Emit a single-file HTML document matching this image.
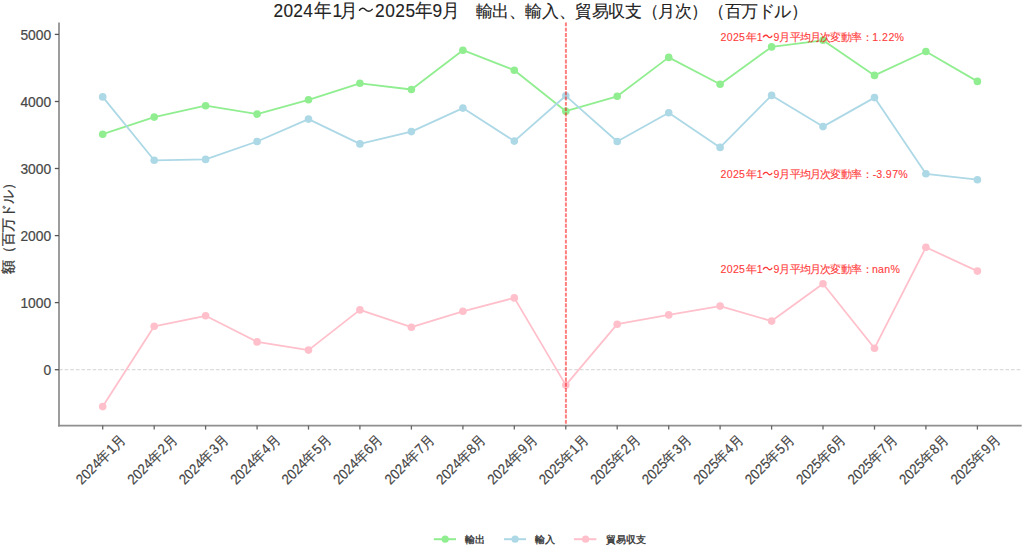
<!DOCTYPE html>
<html><head><meta charset="utf-8"><style>
html,body{margin:0;padding:0;background:#fff;width:1024px;height:547px;overflow:hidden}
svg{display:block;font-family:'Liberation Sans', sans-serif}
</style></head><body>
<svg width="1024" height="547" viewBox="0 0 1024 547">
<rect width="1024" height="547" fill="#fff"/>
<line x1="59.0" y1="369.7" x2="1021.7" y2="369.7" stroke="#dcdcdc" stroke-width="1.3" stroke-dasharray="3.7 1.9"/>
<polyline points="102.7,134.2 154.2,117.1 205.6,105.7 257.1,114.1 308.5,99.8 359.9,83.3 411.4,89.5 462.9,50.2 514.3,70.2 565.8,111.2 617.2,96.3 668.7,57.4 720.1,84.2 771.6,46.9 823.0,40.3 874.5,75.4 925.9,51.5 977.4,81.4" fill="none" stroke="#90ee90" stroke-width="1.8" stroke-linejoin="round"/><circle cx="102.7" cy="134.2" r="3.8" fill="#90ee90"/><circle cx="154.2" cy="117.1" r="3.8" fill="#90ee90"/><circle cx="205.6" cy="105.7" r="3.8" fill="#90ee90"/><circle cx="257.1" cy="114.1" r="3.8" fill="#90ee90"/><circle cx="308.5" cy="99.8" r="3.8" fill="#90ee90"/><circle cx="359.9" cy="83.3" r="3.8" fill="#90ee90"/><circle cx="411.4" cy="89.5" r="3.8" fill="#90ee90"/><circle cx="462.9" cy="50.2" r="3.8" fill="#90ee90"/><circle cx="514.3" cy="70.2" r="3.8" fill="#90ee90"/><circle cx="565.8" cy="111.2" r="3.8" fill="#90ee90"/><circle cx="617.2" cy="96.3" r="3.8" fill="#90ee90"/><circle cx="668.7" cy="57.4" r="3.8" fill="#90ee90"/><circle cx="720.1" cy="84.2" r="3.8" fill="#90ee90"/><circle cx="771.6" cy="46.9" r="3.8" fill="#90ee90"/><circle cx="823.0" cy="40.3" r="3.8" fill="#90ee90"/><circle cx="874.5" cy="75.4" r="3.8" fill="#90ee90"/><circle cx="925.9" cy="51.5" r="3.8" fill="#90ee90"/><circle cx="977.4" cy="81.4" r="3.8" fill="#90ee90"/>
<polyline points="102.7,96.9 154.2,160.3 205.6,159.4 257.1,141.5 308.5,119.1 359.9,143.9 411.4,131.6 462.9,108.1 514.3,141.1 565.8,95.8 617.2,141.5 668.7,112.7 720.1,147.4 771.6,95.4 823.0,126.6 874.5,97.6 925.9,173.8 977.4,179.7" fill="none" stroke="#add8e6" stroke-width="1.8" stroke-linejoin="round"/><circle cx="102.7" cy="96.9" r="3.8" fill="#add8e6"/><circle cx="154.2" cy="160.3" r="3.8" fill="#add8e6"/><circle cx="205.6" cy="159.4" r="3.8" fill="#add8e6"/><circle cx="257.1" cy="141.5" r="3.8" fill="#add8e6"/><circle cx="308.5" cy="119.1" r="3.8" fill="#add8e6"/><circle cx="359.9" cy="143.9" r="3.8" fill="#add8e6"/><circle cx="411.4" cy="131.6" r="3.8" fill="#add8e6"/><circle cx="462.9" cy="108.1" r="3.8" fill="#add8e6"/><circle cx="514.3" cy="141.1" r="3.8" fill="#add8e6"/><circle cx="565.8" cy="95.8" r="3.8" fill="#add8e6"/><circle cx="617.2" cy="141.5" r="3.8" fill="#add8e6"/><circle cx="668.7" cy="112.7" r="3.8" fill="#add8e6"/><circle cx="720.1" cy="147.4" r="3.8" fill="#add8e6"/><circle cx="771.6" cy="95.4" r="3.8" fill="#add8e6"/><circle cx="823.0" cy="126.6" r="3.8" fill="#add8e6"/><circle cx="874.5" cy="97.6" r="3.8" fill="#add8e6"/><circle cx="925.9" cy="173.8" r="3.8" fill="#add8e6"/><circle cx="977.4" cy="179.7" r="3.8" fill="#add8e6"/>
<polyline points="102.7,406.6 154.2,326.3 205.6,315.8 257.1,341.9 308.5,350.1 359.9,309.9 411.4,327.2 462.9,311.3 514.3,297.9 565.8,385.1 617.2,324.2 668.7,314.9 720.1,306.1 771.6,321.1 823.0,283.8 874.5,348.2 925.9,247.3 977.4,271.1" fill="none" stroke="#ffc0cb" stroke-width="1.8" stroke-linejoin="round"/><circle cx="102.7" cy="406.6" r="3.8" fill="#ffc0cb"/><circle cx="154.2" cy="326.3" r="3.8" fill="#ffc0cb"/><circle cx="205.6" cy="315.8" r="3.8" fill="#ffc0cb"/><circle cx="257.1" cy="341.9" r="3.8" fill="#ffc0cb"/><circle cx="308.5" cy="350.1" r="3.8" fill="#ffc0cb"/><circle cx="359.9" cy="309.9" r="3.8" fill="#ffc0cb"/><circle cx="411.4" cy="327.2" r="3.8" fill="#ffc0cb"/><circle cx="462.9" cy="311.3" r="3.8" fill="#ffc0cb"/><circle cx="514.3" cy="297.9" r="3.8" fill="#ffc0cb"/><circle cx="565.8" cy="385.1" r="3.8" fill="#ffc0cb"/><circle cx="617.2" cy="324.2" r="3.8" fill="#ffc0cb"/><circle cx="668.7" cy="314.9" r="3.8" fill="#ffc0cb"/><circle cx="720.1" cy="306.1" r="3.8" fill="#ffc0cb"/><circle cx="771.6" cy="321.1" r="3.8" fill="#ffc0cb"/><circle cx="823.0" cy="283.8" r="3.8" fill="#ffc0cb"/><circle cx="874.5" cy="348.2" r="3.8" fill="#ffc0cb"/><circle cx="925.9" cy="247.3" r="3.8" fill="#ffc0cb"/><circle cx="977.4" cy="271.1" r="3.8" fill="#ffc0cb"/>
<line x1="565.9" y1="22.4" x2="565.9" y2="425.6" stroke="#ff0000" stroke-opacity="0.5" stroke-width="2" stroke-dasharray="3.9 1.4"/>
<line x1="59.0" y1="22.4" x2="59.0" y2="426.6" stroke="#8f8f8f" stroke-width="1.75"/>
<line x1="58.0" y1="425.6" x2="1021.7" y2="425.6" stroke="#8f8f8f" stroke-width="1.75"/>
<line x1="54.8" y1="369.7" x2="59.0" y2="369.7" stroke="#555" stroke-width="1.3"/>
<text x="51.1" y="375.1" text-anchor="end" font-size="13.8" fill="#474747" stroke="#474747" stroke-width="0.2">0</text>
<line x1="54.8" y1="302.6" x2="59.0" y2="302.6" stroke="#555" stroke-width="1.3"/>
<text x="51.1" y="308.0" text-anchor="end" font-size="13.8" fill="#474747" stroke="#474747" stroke-width="0.2">1000</text>
<line x1="54.8" y1="235.6" x2="59.0" y2="235.6" stroke="#555" stroke-width="1.3"/>
<text x="51.1" y="241.0" text-anchor="end" font-size="13.8" fill="#474747" stroke="#474747" stroke-width="0.2">2000</text>
<line x1="54.8" y1="168.5" x2="59.0" y2="168.5" stroke="#555" stroke-width="1.3"/>
<text x="51.1" y="173.9" text-anchor="end" font-size="13.8" fill="#474747" stroke="#474747" stroke-width="0.2">3000</text>
<line x1="54.8" y1="101.5" x2="59.0" y2="101.5" stroke="#555" stroke-width="1.3"/>
<text x="51.1" y="106.9" text-anchor="end" font-size="13.8" fill="#474747" stroke="#474747" stroke-width="0.2">4000</text>
<line x1="54.8" y1="34.4" x2="59.0" y2="34.4" stroke="#555" stroke-width="1.3"/>
<text x="51.1" y="39.8" text-anchor="end" font-size="13.8" fill="#474747" stroke="#474747" stroke-width="0.2">5000</text>
<line x1="102.7" y1="425.6" x2="102.7" y2="429.6" stroke="#666" stroke-width="1.3"/>
<text transform="translate(126.7,440.4) rotate(-45) scale(1,1.08)" text-anchor="end" font-size="13.2" fill="#444" stroke="#444" stroke-width="0.15">2024年1月</text>
<line x1="154.2" y1="425.6" x2="154.2" y2="429.6" stroke="#666" stroke-width="1.3"/>
<text transform="translate(178.2,440.4) rotate(-45) scale(1,1.08)" text-anchor="end" font-size="13.2" fill="#444" stroke="#444" stroke-width="0.15">2024年2月</text>
<line x1="205.6" y1="425.6" x2="205.6" y2="429.6" stroke="#666" stroke-width="1.3"/>
<text transform="translate(229.6,440.4) rotate(-45) scale(1,1.08)" text-anchor="end" font-size="13.2" fill="#444" stroke="#444" stroke-width="0.15">2024年3月</text>
<line x1="257.1" y1="425.6" x2="257.1" y2="429.6" stroke="#666" stroke-width="1.3"/>
<text transform="translate(281.1,440.4) rotate(-45) scale(1,1.08)" text-anchor="end" font-size="13.2" fill="#444" stroke="#444" stroke-width="0.15">2024年4月</text>
<line x1="308.5" y1="425.6" x2="308.5" y2="429.6" stroke="#666" stroke-width="1.3"/>
<text transform="translate(332.5,440.4) rotate(-45) scale(1,1.08)" text-anchor="end" font-size="13.2" fill="#444" stroke="#444" stroke-width="0.15">2024年5月</text>
<line x1="359.9" y1="425.6" x2="359.9" y2="429.6" stroke="#666" stroke-width="1.3"/>
<text transform="translate(383.9,440.4) rotate(-45) scale(1,1.08)" text-anchor="end" font-size="13.2" fill="#444" stroke="#444" stroke-width="0.15">2024年6月</text>
<line x1="411.4" y1="425.6" x2="411.4" y2="429.6" stroke="#666" stroke-width="1.3"/>
<text transform="translate(435.4,440.4) rotate(-45) scale(1,1.08)" text-anchor="end" font-size="13.2" fill="#444" stroke="#444" stroke-width="0.15">2024年7月</text>
<line x1="462.9" y1="425.6" x2="462.9" y2="429.6" stroke="#666" stroke-width="1.3"/>
<text transform="translate(486.9,440.4) rotate(-45) scale(1,1.08)" text-anchor="end" font-size="13.2" fill="#444" stroke="#444" stroke-width="0.15">2024年8月</text>
<line x1="514.3" y1="425.6" x2="514.3" y2="429.6" stroke="#666" stroke-width="1.3"/>
<text transform="translate(538.3,440.4) rotate(-45) scale(1,1.08)" text-anchor="end" font-size="13.2" fill="#444" stroke="#444" stroke-width="0.15">2024年9月</text>
<line x1="565.8" y1="425.6" x2="565.8" y2="429.6" stroke="#666" stroke-width="1.3"/>
<text transform="translate(589.8,440.4) rotate(-45) scale(1,1.08)" text-anchor="end" font-size="13.2" fill="#444" stroke="#444" stroke-width="0.15">2025年1月</text>
<line x1="617.2" y1="425.6" x2="617.2" y2="429.6" stroke="#666" stroke-width="1.3"/>
<text transform="translate(641.2,440.4) rotate(-45) scale(1,1.08)" text-anchor="end" font-size="13.2" fill="#444" stroke="#444" stroke-width="0.15">2025年2月</text>
<line x1="668.7" y1="425.6" x2="668.7" y2="429.6" stroke="#666" stroke-width="1.3"/>
<text transform="translate(692.7,440.4) rotate(-45) scale(1,1.08)" text-anchor="end" font-size="13.2" fill="#444" stroke="#444" stroke-width="0.15">2025年3月</text>
<line x1="720.1" y1="425.6" x2="720.1" y2="429.6" stroke="#666" stroke-width="1.3"/>
<text transform="translate(744.1,440.4) rotate(-45) scale(1,1.08)" text-anchor="end" font-size="13.2" fill="#444" stroke="#444" stroke-width="0.15">2025年4月</text>
<line x1="771.6" y1="425.6" x2="771.6" y2="429.6" stroke="#666" stroke-width="1.3"/>
<text transform="translate(795.6,440.4) rotate(-45) scale(1,1.08)" text-anchor="end" font-size="13.2" fill="#444" stroke="#444" stroke-width="0.15">2025年5月</text>
<line x1="823.0" y1="425.6" x2="823.0" y2="429.6" stroke="#666" stroke-width="1.3"/>
<text transform="translate(847.0,440.4) rotate(-45) scale(1,1.08)" text-anchor="end" font-size="13.2" fill="#444" stroke="#444" stroke-width="0.15">2025年6月</text>
<line x1="874.5" y1="425.6" x2="874.5" y2="429.6" stroke="#666" stroke-width="1.3"/>
<text transform="translate(898.5,440.4) rotate(-45) scale(1,1.08)" text-anchor="end" font-size="13.2" fill="#444" stroke="#444" stroke-width="0.15">2025年7月</text>
<line x1="925.9" y1="425.6" x2="925.9" y2="429.6" stroke="#666" stroke-width="1.3"/>
<text transform="translate(949.9,440.4) rotate(-45) scale(1,1.08)" text-anchor="end" font-size="13.2" fill="#444" stroke="#444" stroke-width="0.15">2025年8月</text>
<line x1="977.4" y1="425.6" x2="977.4" y2="429.6" stroke="#666" stroke-width="1.3"/>
<text transform="translate(1001.4,440.4) rotate(-45) scale(1,1.08)" text-anchor="end" font-size="13.2" fill="#444" stroke="#444" stroke-width="0.15">2025年9月</text>
<path d="M359.5,10.3 C361.2,7.9 363.8,7.7 365.6,9.7 C367.4,11.7 370.3,11.9 372.2,9.4" fill="none" stroke="#222" stroke-width="1.5" stroke-linecap="round"/>
<text x="278.3 288.2 298.1 308.0 322.2 337.2 348.6 379.9 390.0 400.1 410.2 424.0 437.4 450.6" y="0" transform="translate(0,16.6) scale(1,1.08)" text-anchor="middle" font-size="17.3" fill="#222" stroke="#222" stroke-width="0.12">2024年1月2025年9月</text>
<text x="475.5 492.1 508.7 525.3 541.9 558.5 575.1 591.7 608.3 624.9 641.5 658.1 674.7 691.3 707.9 724.5 741.1 757.7 774.3 790.9" y="16.5" font-size="16.6" fill="#222" stroke="#222" stroke-width="0.12">輸出、輸入、貿易収支（月次）（百万ドル）</text>
<text transform="translate(12.5,225) rotate(-90)" text-anchor="middle" font-size="13.5" fill="#3a3a3a" stroke="#3a3a3a" stroke-width="0.3">額（百万ドル）</text>
<line x1="433.8" y1="539.2" x2="456" y2="539.2" stroke="#90ee90" stroke-width="2"/>
<circle cx="445.2" cy="539.2" r="3.6" fill="#90ee90"/>
<text x="464.6" y="543" font-size="10" fill="#333" stroke="#333" stroke-width="0.35">輸出</text>
<line x1="504" y1="539.2" x2="526" y2="539.2" stroke="#add8e6" stroke-width="2"/>
<circle cx="515.1" cy="539.2" r="3.6" fill="#add8e6"/>
<text x="534.8" y="543" font-size="10" fill="#333" stroke="#333" stroke-width="0.35">輸入</text>
<line x1="573.9" y1="539.2" x2="596.4" y2="539.2" stroke="#ffc0cb" stroke-width="2"/>
<circle cx="585.6" cy="539.2" r="3.6" fill="#ffc0cb"/>
<text x="605.6" y="543" font-size="10" fill="#333" stroke="#333" stroke-width="0.35">貿易収支</text>
<g opacity="0.78"><text x="723.5 729.7 735.9 742.0 751.2 759.8 776.4 784.7 795.4 805.4 815.2 825.9 835.7 846.1 856.7 867.2 875.3 879.9 885.0 891.4 899.2" y="41.0" text-anchor="middle" font-size="10.6" fill="#ff0000" stroke="#ff0000" stroke-width="0.12">2025年19月平均月次変動率：1.22%</text>
<path d="M763.3,36.9 C764.6,34.9 766.8,34.7 767.9,36.3 C769,37.9 770.9,38.1 771.9,36.1" fill="none" stroke="#ff0000" stroke-width="1.3" stroke-linecap="round"/>
<text x="723.5 729.7 735.9 742.0 751.2 759.8 776.4 784.7 795.4 805.4 815.2 825.9 835.7 846.1 856.7 867.2 874.4 879.2 883.9 888.6 895.2 902.9" y="178.2" text-anchor="middle" font-size="10.6" fill="#ff0000" stroke="#ff0000" stroke-width="0.12">2025年19月平均月次変動率：-3.97%</text>
<path d="M763.3,174.1 C764.6,172.1 766.8,171.9 767.9,173.5 C769,175.1 770.9,175.3 771.9,173.3" fill="none" stroke="#ff0000" stroke-width="1.3" stroke-linecap="round"/>
<text x="723.5 729.7 735.9 742.0 751.2 759.8 776.4 784.7 795.4 805.4 815.2 825.9 835.7 846.1 856.7 867.2 875.0 880.9 887.2 895.2" y="273.2" text-anchor="middle" font-size="10.6" fill="#ff0000" stroke="#ff0000" stroke-width="0.12">2025年19月平均月次変動率：nan%</text>
<path d="M763.3,269.1 C764.6,267.1 766.8,266.9 767.9,268.5 C769,270.1 770.9,270.3 771.9,268.3" fill="none" stroke="#ff0000" stroke-width="1.3" stroke-linecap="round"/></g>
</svg></body></html>
